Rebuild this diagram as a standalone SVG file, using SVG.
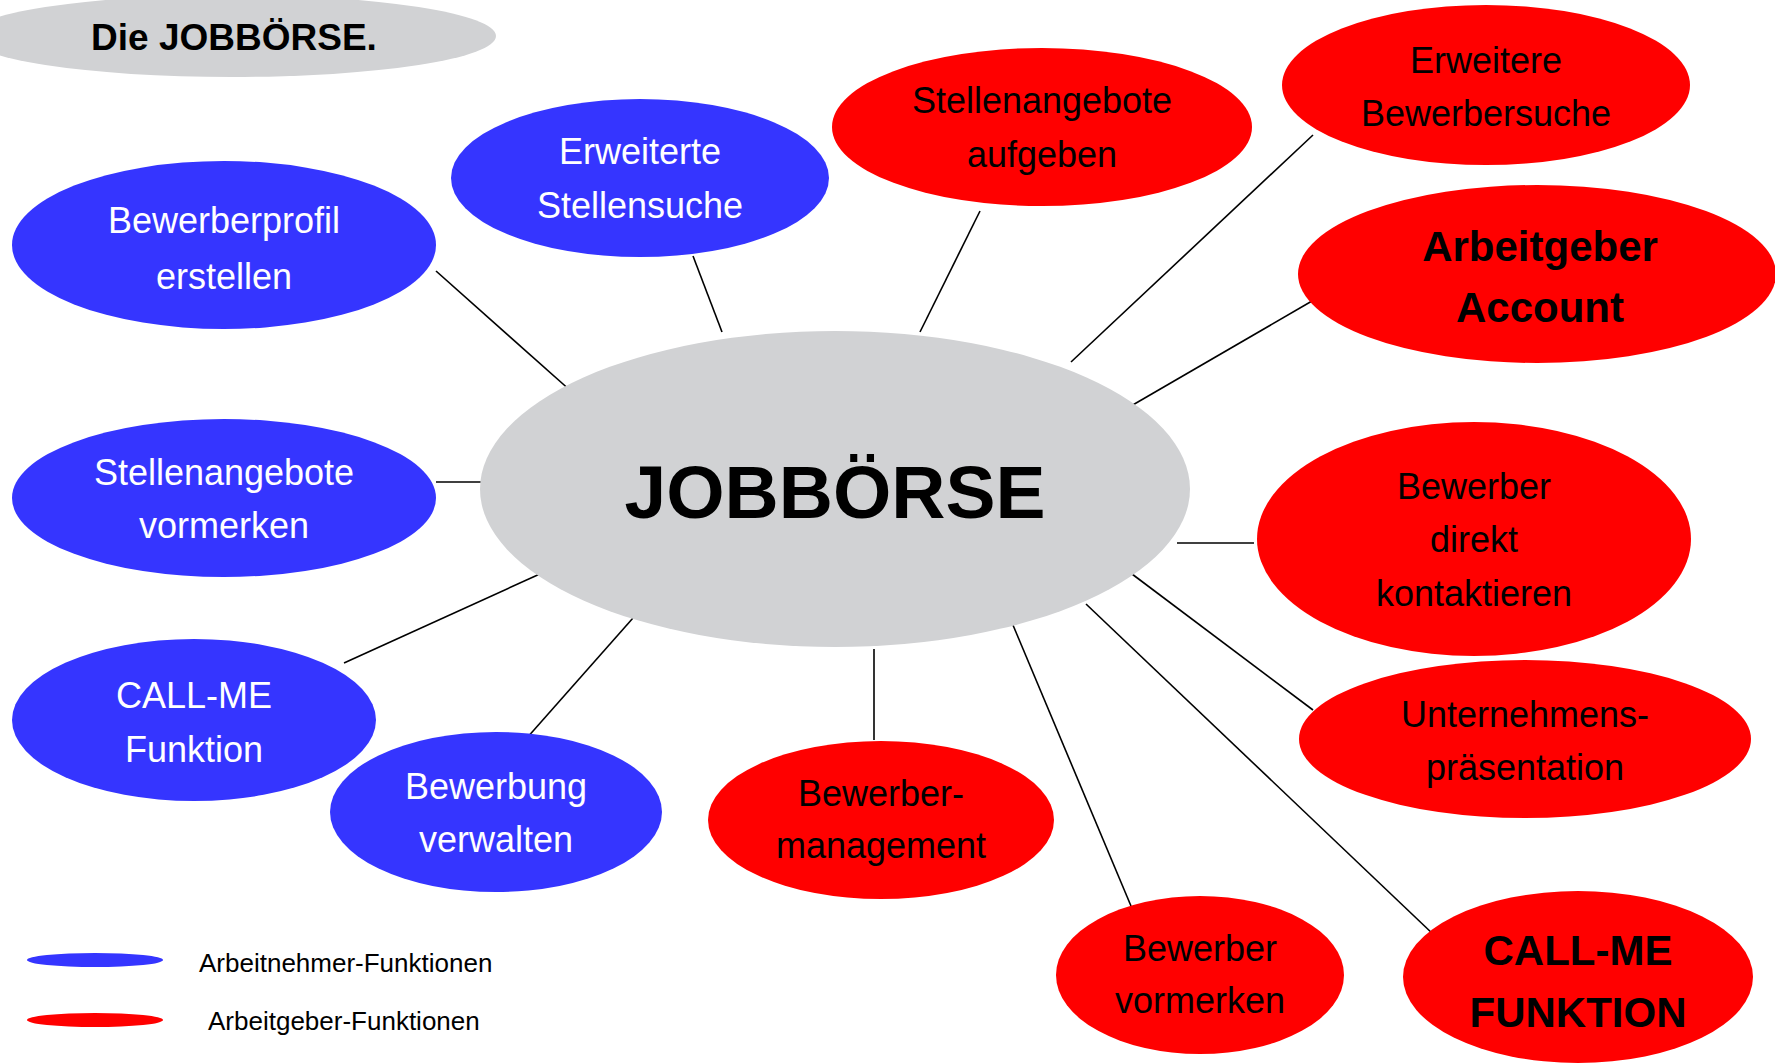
<svg xmlns="http://www.w3.org/2000/svg" width="1775" height="1064" viewBox="0 0 1775 1064">
<style>
text{font-family:"Liberation Sans",Arial,sans-serif;text-anchor:middle}
.blue{fill:#3535FF}
.red{fill:#FF0000}
.gray{fill:#D1D2D4}
.wt{fill:#FFFFFF;font-size:36px}
.bt{fill:#000000;font-size:36px}
.bb{fill:#000000;font-size:42px;font-weight:bold}
.leg{fill:#000000;font-size:26px;text-anchor:start}
#connectors line{stroke:#000;stroke-width:1.6}
</style>
<rect width="1775" height="1064" fill="#FFFFFF"/>
<g id="title">
<ellipse class="gray" cx="232" cy="36" rx="264" ry="41"/>
<text x="234" y="50" style="font-size:37px;font-weight:bold">Die JOBBÖRSE.</text>
</g>
<g id="connectors">
<line x1="436" y1="271" x2="572" y2="392"/>
<line x1="693" y1="256" x2="722" y2="332"/>
<line x1="436" y1="482" x2="482" y2="482"/>
<line x1="344" y1="663" x2="542" y2="573"/>
<line x1="526" y1="739" x2="633" y2="618"/>
<line x1="980" y1="211" x2="920" y2="332"/>
<line x1="1313" y1="135" x2="1071" y2="362"/>
<line x1="1312" y1="301" x2="1131" y2="406"/>
<line x1="1177" y1="543" x2="1254" y2="543"/>
<line x1="1132" y1="574" x2="1313" y2="710"/>
<line x1="1086" y1="604" x2="1434" y2="935"/>
<line x1="1010" y1="618" x2="1131" y2="906"/>
<line x1="874" y1="649" x2="874" y2="740"/>
</g>
<g id="center">
<ellipse class="gray" cx="835" cy="489" rx="355" ry="158"/>
<text x="835" y="518" style="font-size:75px;font-weight:bold">JOBBÖRSE</text>
</g>
<g id="bewerberprofil">
<ellipse class="blue" cx="224" cy="245" rx="212" ry="84"/>
<text class="wt" x="224" y="233">Bewerberprofil</text>
<text class="wt" x="224" y="289">erstellen</text>
</g>
<g id="erweiterte-stellensuche">
<ellipse class="blue" cx="640" cy="178" rx="189" ry="79"/>
<text class="wt" x="640" y="164">Erweiterte</text>
<text class="wt" x="640" y="218">Stellensuche</text>
</g>
<g id="stellenangebote-vormerken">
<ellipse class="blue" cx="224" cy="498" rx="212" ry="79"/>
<text class="wt" x="224" y="485">Stellenangebote</text>
<text class="wt" x="224" y="538">vormerken</text>
</g>
<g id="callme-funktion">
<ellipse class="blue" cx="194" cy="720" rx="182" ry="81"/>
<text class="wt" x="194" y="708">CALL-ME</text>
<text class="wt" x="194" y="762">Funktion</text>
</g>
<g id="bewerbung-verwalten">
<ellipse class="blue" cx="496" cy="812" rx="166" ry="80"/>
<text class="wt" x="496" y="799">Bewerbung</text>
<text class="wt" x="496" y="852">verwalten</text>
</g>
<g id="stellenangebote-aufgeben">
<ellipse class="red" cx="1042" cy="127" rx="210" ry="79"/>
<text class="bt" x="1042" y="113">Stellenangebote</text>
<text class="bt" x="1042" y="167">aufgeben</text>
</g>
<g id="erweitere-bewerbersuche">
<ellipse class="red" cx="1486" cy="85" rx="204" ry="80"/>
<text class="bt" x="1486" y="73">Erweitere</text>
<text class="bt" x="1486" y="126">Bewerbersuche</text>
</g>
<g id="arbeitgeber-account">
<ellipse class="red" cx="1537" cy="274" rx="239" ry="89"/>
<text class="bb" x="1540" y="261">Arbeitgeber</text>
<text class="bb" x="1540" y="322">Account</text>
</g>
<g id="bewerber-direkt">
<ellipse class="red" cx="1474" cy="539" rx="217" ry="117"/>
<text class="bt" x="1474" y="499">Bewerber</text>
<text class="bt" x="1474" y="552">direkt</text>
<text class="bt" x="1474" y="606">kontaktieren</text>
</g>
<g id="unternehmenspraesentation">
<ellipse class="red" cx="1525" cy="739" rx="226" ry="79"/>
<text class="bt" x="1525" y="727">Unternehmens-</text>
<text class="bt" x="1525" y="780">präsentation</text>
</g>
<g id="bewerbermanagement">
<ellipse class="red" cx="881" cy="820" rx="173" ry="79"/>
<text class="bt" x="881" y="806">Bewerber-</text>
<text class="bt" x="881" y="858">management</text>
</g>
<g id="bewerber-vormerken">
<ellipse class="red" cx="1200" cy="975" rx="144" ry="79"/>
<text class="bt" x="1200" y="961">Bewerber</text>
<text class="bt" x="1200" y="1013">vormerken</text>
</g>
<g id="callme-funktion-ag">
<ellipse class="red" cx="1578" cy="977" rx="175" ry="86"/>
<text class="bb" x="1578" y="965">CALL-ME</text>
<text class="bb" x="1578" y="1027">FUNKTION</text>
</g>
<g id="legend">
<ellipse class="blue" cx="95" cy="960" rx="68" ry="7"/>
<text class="leg" x="199" y="972">Arbeitnehmer-Funktionen</text>
<ellipse class="red" cx="95" cy="1020" rx="68" ry="7"/>
<text class="leg" x="208" y="1030">Arbeitgeber-Funktionen</text>
</g>
</svg>
